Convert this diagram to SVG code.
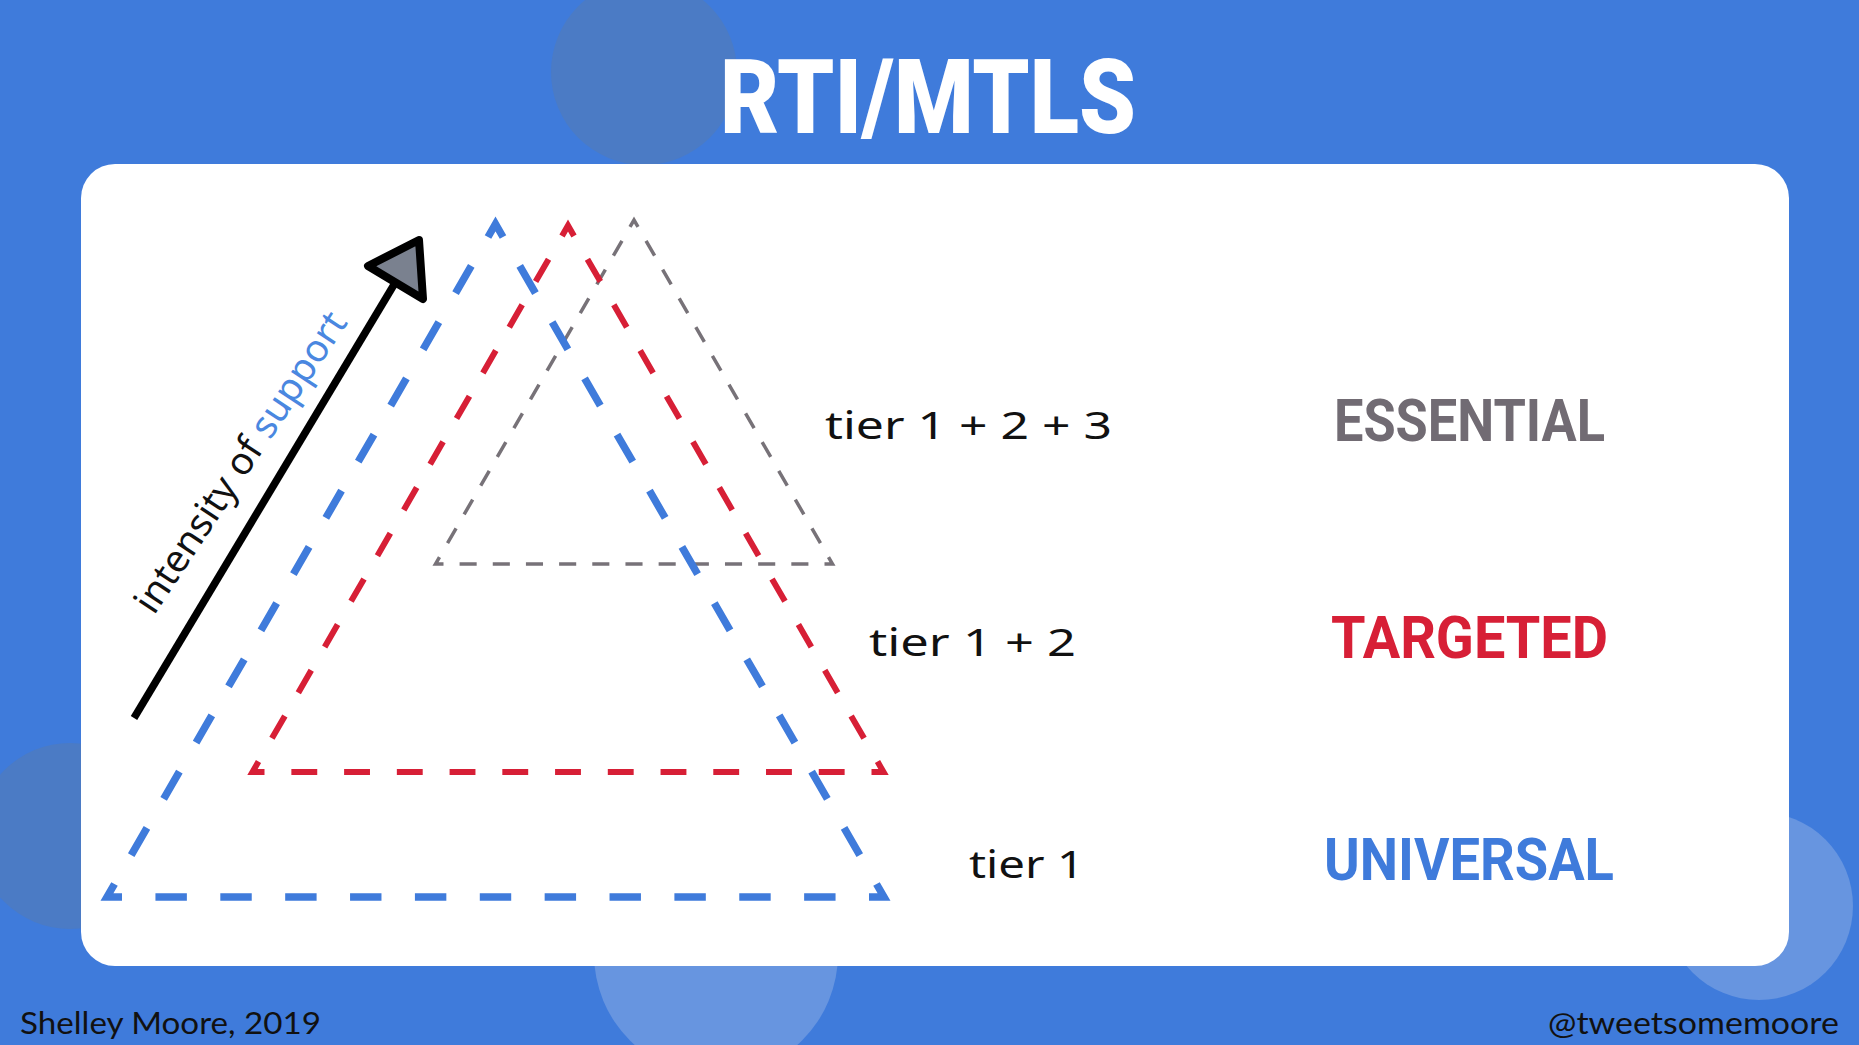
<svg xmlns="http://www.w3.org/2000/svg" width="1859" height="1045" viewBox="0 0 1859 1045">
  <style>
    .bg-dark{fill:#4b7bc5}
    .bg-light{fill:#6795e0}
    .hand{font-family:"Noto Sans","DejaVu Sans",sans-serif;font-size:38px;fill:#111}
    .level{font-family:Roboto,"Liberation Sans",sans-serif;font-weight:700;font-size:60px}
    .foot{font-family:Lato,"Liberation Sans",sans-serif;font-size:31px;fill:#111}
    .tri{fill:none;stroke-linejoin:miter;stroke-linecap:butt}
    .blue{stroke:#3f7bdb;stroke-width:7.5}
    .red{stroke:#d71f36;stroke-width:6}
    .gray{stroke:#777278;stroke-width:3.5}
    .blue .side{stroke-dasharray:31 33;stroke-dashoffset:31}
    .red .side{stroke-dasharray:26 27;stroke-dashoffset:26}
    .gray .side{stroke-dasharray:17 16;stroke-dashoffset:17}
  </style>

  <!-- backdrop -->
  <rect width="1859" height="1045" fill="#3f7bdb"/>
  <circle class="bg-dark" cx="644" cy="72" r="93"/>
  <circle class="bg-dark" cx="70" cy="836" r="93"/>
  <circle class="bg-light" cx="716" cy="954" r="122"/>
  <circle class="bg-light" cx="1759" cy="906" r="94"/>

  <text x="720" y="133" font-family="Roboto, 'Liberation Sans', sans-serif" font-weight="900" font-size="104" fill="#ffffff" textLength="416" lengthAdjust="spacingAndGlyphs">RTI/MTLS</text>

  <!-- card -->
  <rect x="81" y="164" width="1708" height="802" rx="34" fill="#ffffff"/>

  <!-- tier 3 triangle -->
  <g id="tier3-triangle" class="tri gray">
    <path d="M630,226.9 L634,220 L638,226.9 M439.5,557.1 L435.5,564 L443.5,564 M828.5,557.1 L832.5,564 L824.5,564"/>
    <path class="side" d="M630,226.9 L439.5,557.1" pathLength="379"/>
    <path class="side" d="M638,226.9 L828.5,557.1" pathLength="379"/>
    <path class="side" d="M443.5,564 L824.5,564" pathLength="379"/>
  </g>

  <!-- tier 2 triangle -->
  <g id="tier2-triangle" class="tri red">
    <path d="M562,235.9 L568,225.5 L574,235.9 M258.5,761.6 L252.5,772 L264.5,772 M877.5,761.6 L883.5,772 L871.5,772"/>
    <path class="side" d="M562,235.9 L258.5,761.6" pathLength="610"/>
    <path class="side" d="M574,235.9 L877.5,761.6" pathLength="610"/>
    <path class="side" d="M264.5,772 L871.5,772" pathLength="610"/>
  </g>

  <!-- tier 1 triangle -->
  <g id="tier1-triangle" class="tri blue">
    <path d="M488,237 L495.5,224 L503,237 M114.5,884 L107,897 L122,897 M876.5,884 L884,897 L869,897"/>
    <path class="side" d="M488,237 L114.5,884" pathLength="737"/>
    <path class="side" d="M503,237 L876.5,884" pathLength="737"/>
    <path class="side" d="M122,897 L869,897" pathLength="737"/>
  </g>

  <!-- intensity arrow -->
  <g id="connectors">
    <line x1="134" y1="718" x2="395" y2="283" stroke="#000" stroke-width="7.5"/>
    <polygon points="419,240 368,266 423,299" fill="#7a818f" stroke="#000" stroke-width="8" stroke-linejoin="round"/>
  </g>

  <g id="axis-label">
    <text class="hand" font-size="30" transform="translate(154,616) rotate(-56.5)" textLength="352" lengthAdjust="spacingAndGlyphs">intensity of <tspan fill="#4a87e0">support</tspan></text>
  </g>

  <g id="tier-labels">
    <text class="hand" x="825" y="439" textLength="287" lengthAdjust="spacingAndGlyphs">tier 1 + 2 + 3</text>
    <text class="hand" x="869" y="656" textLength="207" lengthAdjust="spacingAndGlyphs">tier 1 + 2</text>
    <text class="hand" x="969" y="878" textLength="115" lengthAdjust="spacingAndGlyphs">tier 1</text>
  </g>

  <g id="level-essential">
    <text class="level" x="1334" y="441" fill="#716b73" textLength="271" lengthAdjust="spacingAndGlyphs">ESSENTIAL</text>
  </g>
  <g id="level-targeted">
    <text class="level" x="1331" y="658" fill="#d71f36" textLength="277" lengthAdjust="spacingAndGlyphs">TARGETED</text>
  </g>
  <g id="level-universal">
    <text class="level" x="1324" y="880" fill="#3f7bdb" textLength="290" lengthAdjust="spacingAndGlyphs">UNIVERSAL</text>
  </g>

  <!-- credits -->
  <text class="foot" x="20" y="1034" textLength="301" lengthAdjust="spacingAndGlyphs">Shelley Moore, 2019</text>
  <text class="foot" x="1548" y="1034" textLength="291" lengthAdjust="spacingAndGlyphs">@tweetsomemoore</text>
</svg>
